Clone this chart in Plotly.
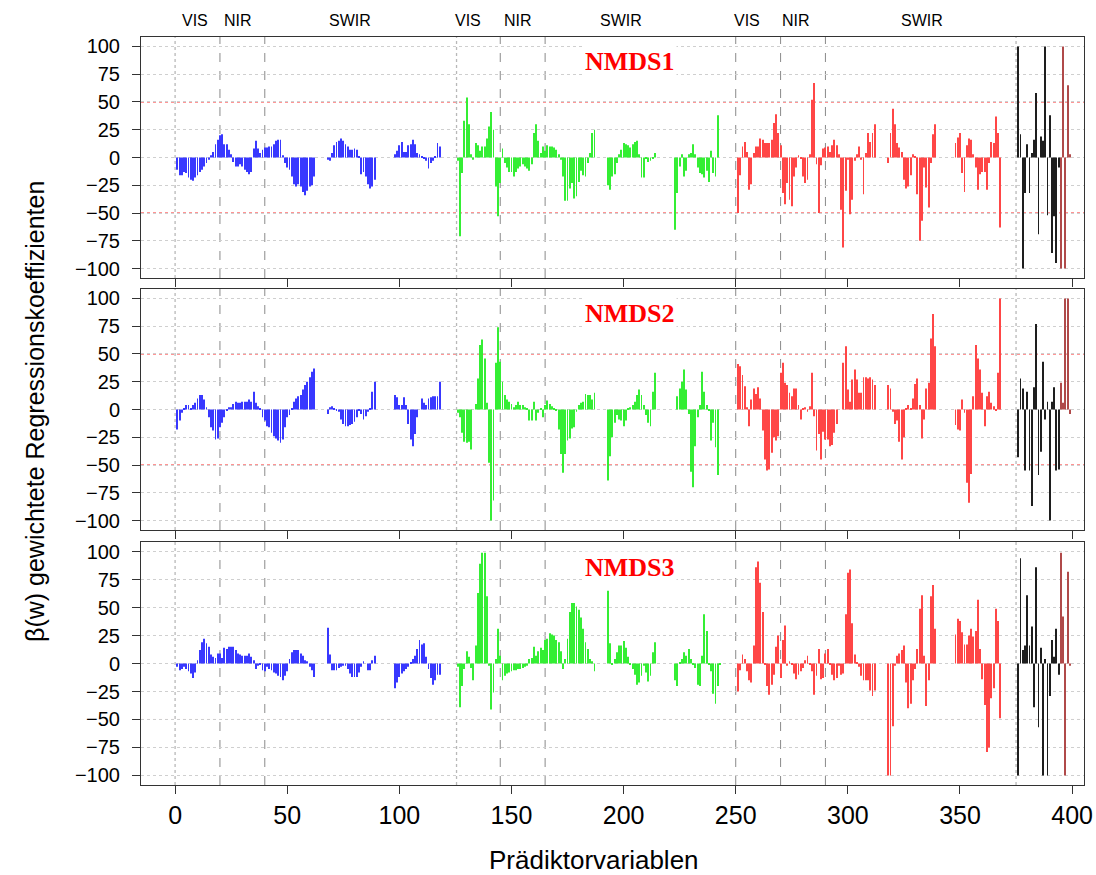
import plotly.graph_objects as go
from plotly.subplots import make_subplots

# ---------------- data ----------------
# relative band indices inside one spectral block (gaps = water absorption bands)
seg_rel = list(range(1, 63)) + list(range(68, 90)) + list(range(98, 119))
block_offset = {"blue": 0, "green": 125, "red": 250}
black_x = list(range(376, 395))
brown_x = list(range(395, 400))
x_ticks = [0, 50, 100, 150, 200, 250, 300, 350, 400]
y_ticks = [-100, -75, -50, -25, 0, 25, 50, 75, 100]
band_edges_dark = [20, 40, 145, 165, 250, 270, 290]
band_edges_light = [0, 125.5, 375]
region_labels = ["VIS", "NIR", "SWIR", "VIS", "NIR", "SWIR", "VIS", "NIR", "SWIR"]
region_label_x = [9, 28, 78, 130.5, 153, 199, 255, 277, 333]
panel_titles = ["NMDS1", "NMDS2", "NMDS3"]

nmds1_blue = [
    -11, -16, -16, -13, -14, -18, -20, -21, -18, -16, -13, -11, -8, -5, -2,
    2, 5, 12, 16, 20, 21, 12, 12, 7, 3,
    -4, -8, -8, -6, -8, -11, -13, -15, -13,
    8, 15, 8, 4, 7, 9, 9, 10, 10, 12, 15, 16, 16, 2,
    -5, -9, -11, -17, -24, -26, -24, -26, -31, -34, -30, -26, -25, -17,
    -2, -3, 4, 11, 14, 15, 17, 15, 12, 10, 7, 7, 8, 7, 1, -15, -13, -17, -24, -28, -26, -20,
    3, 6, 11, 14, 5, 5, 11, 12, 16, 12, 4, 3, 1, -1, -3, -10, -5, -3, 1, 13, 10]
nmds1_green = [
    -3, -71, -14, 33, 54, 30, 3, -2, 13, 11, 6, 10, 10, 17, 28, 41, 25, -26, -53, -23, 8,
    -5, -9, -13, -13, -17, -13, -10, -8, -6, -8, -10, -12, -6, 22, 30, 15, 4, 10, 6, 11,
    10, 10, 9, 7, 3, -2, -17, -39, -39, -28, -23, -37, -35, -22, -12, -16, -17, -5, 4, 22, 25,
    -25, -29, -17, -15, -5, 3, 7, 13, 12, 11, 9, 12, 14, 15, 3, -18, -18, -1, -4, -3, -1, 4,
    -65, -32, -8, 3, -17, -12, 3, 4, 12, 3, -9, -14, -15, -18, -12, -22, 6, -14, -17, 38, 0]
nmds1_red = [
    -50, -16, 10, 14, 5, -29, -24, 4, 10, 10, 17, 16, 13, 13, 13, 16, 31, 39, 22, 11,
    -32, -42, -23, -38, -44, -17, -9, 2, -1, -17, -23, -20, 3, 52, 67, -6, -50, -7, 8, 9,
    10, 5, 11, 16, 11, 3, -47, -81, -30, -2, -51, -38, -3, 3, 10, -2, -33, 4, 22, 14, 22, 30,
    -5, 22, 44, 30, 13, 9, 5, -20, -28, -26, -16, 3, 1, -33, -75, -57, -9, -27, -45, -5, 21, 30,
    13, 18, 22, -14, -31, 11, 17, 16, 3, -9, -29, -15, -13, -13, -29, -5, 14, 13, 37, 22, -63]
nmds1_black = [100, 21, -100, -32, 12, -32, 4, 16, 58, -69, 19, 15, 100, -52, 38, -86, -53, -95, -9]
nmds1_brown = [-100, 100, -100, 65, 3]

nmds2_blue = [
    -18, -10, -3, 1, 4, 4, 1, 4, 6, 10, 13, 13, 9, 2, -7, -16, -19, -27, -26, -16,
    -12, -7, -1, 2, 2, 5, 7, 6, 6, 7, 7, 7, 9, 7, 16, 6, 3, 1, -7, -10,
    -15, -16, -21, -24, -26, -28, -30, -27, -16, -7, -5, 1, 7, 10, 12, 13, 18, 22, 25, 29, 34, 37,
    -4, 2, 3, 1, -1, -2, -9, -13, -15, -15, -14, -13, -11, -7, -1, -4, -9, -6, -2, 1, 16, 25,
    13, 11, 4, 4, 11, 4, -13, -27, -33, -22, -7, 0, 10, 6, 4, 10, 11, 12, 12, 12, 25]
nmds2_green = [
    -3, -7, -21, -29, -30, -29, -36, 0, 5, 28, 58, 63, 46, 6, -48, -100, -82, 42, 74, 43, 25,
    13, 9, 7, 5, 2, 4, 7, 4, 4, 2, 1, -10, -10, 7, -10, -3, 1, -7, 4, 8,
    5, 3, 1, -1, -18, -40, -57, -40, -28, -26, -17, -16, -2, 4, 6, 7, 14, 13, 13, 9, 15,
    -64, -42, -25, -12, -5, -9, -10, -15, -10, 1, 2, 4, 7, 13, 18, 13, 4, -5, -12, -15, 16, 33,
    0, 12, 19, 25, 36, 18, -4, -56, -70, -33, -7, 4, 34, 16, 4, -1, -28, -12, -34, -59, 0]
nmds2_red = [
    41, 39, 31, 21, 2, -15, 9, 19, 14, 20, 10, -19, -45, -55, -54, -39, -25, -28, -24, 33,
    42, 24, 22, 15, 12, 19, 19, 4, -9, 1, 2, -2, 3, 33, -6, -37, -22, -45, -20, -27,
    -27, -33, -32, -21, -13, 0, 0, 42, 57, 18, 7, 27, 36, 27, 15, 15, 29, 29, 28, 29, 27, 22,
    22, 19, -2, -13, -10, -29, -45, -25, 1, 4, 1, 10, 23, 28, 4, -26, -9, 19, 24, 64, 86, 57,
    -14, -18, -19, 9, -3, -66, -84, -58, 12, 58, 46, 36, 15, -15, 12, 16, 6, 3, -1, 33, 100]
nmds2_black = [-43, 28, 19, -55, 16, -55, -87, 20, 77, -59, -38, 43, -9, 7, -100, 7, 20, -55, -54]
nmds2_brown = [24, 6, 100, 100, -4]

nmds3_blue = [
    -3, -6, -5, -3, -5, -7, -9, -13, -8, 3, 12, 19, 22, 18, 15, 8, 6, 5, 9, 9,
    5, 14, 13, 15, 15, 15, 12, 9, 8, 7, 7, 7, 9, 6, 3, -5, -2, -1, -6, -7,
    -3, -5, -6, -8, -9, -11, -12, -15, -11, -7, 4, 10, 12, 12, 12, 9, 7, 3, 2, -3, -6, -12,
    32, 8, -6, -6, -6, -4, -3, -2, -2, -5, -9, -12, -12, -12, -8, -3, 2, 0, -6, -6, 3, 7,
    -22, -17, -12, -9, -7, -5, -3, 1, 4, 7, 13, 21, 17, 18, 6, -5, -13, -19, -15, -10, -10]
nmds3_green = [
    -3, -39, -20, -5, 11, 6, -4, -15, 16, 63, 89, 99, 99, 60, -2, -41, -26, 4, 31, 7, -15,
    -11, -9, -8, -7, -6, -6, -5, -5, -4, -3, -2,
    4, 5, 15, 7, 11, 14, 12, 21, 22, 27, 26, 25, 21, 19, 11, -5, 4, 22, 46, 54, 54, 51, 48, 41,
    31, 19, 13, 4, 2, -7,
    65, 18, -1, 4, 10, 16, 16, 20, 14, 6, -1, -5, -10, -19, -17, -11, -2, -8, -16, -11, 10, 19,
    -15, -20, 1, 4, 10, 7, 13, 4, -1, -4, -19, -20, 7, 44, 29, -1, -7, -27, -36, -20, -1]
nmds3_red = [
    -25, -6, 8, 4, -7, -15, -17, 16, 86, 91, 72, 46, -1, -20, -28, -19, -10, 15, 25, -13,
    21, 34, -2, 2, -1, -9, -14, -10, -7, -4, 3, 7, -1, -7, -28, -11, 13, -14, -13, 9,
    13, -1, -10, -15, -13, -2, -10, -9, 44, 81, 84, 36, 8, 1, -3, -11, -15, -15, -15, -24, -29, -24,
    -100, -100, -56, -2, 7, 9, 12, 16, -17, -40, -36, -15, -5, 13, 49, 61, 7, -38, -15, 60, 70, 31,
    26, 40, 38, 28, 17, 17, 25, 31, 24, 29, 57, 13, -14, -37, -79, -75, -31, -22, 49, 38, -49]
nmds3_black = [-100, 94, 12, 16, 61, 16, 33, -39, 86, -57, 14, -100, 4, -100, -29, 21, 6, 31, -10]
nmds3_brown = [99, 42, -100, 82, -2]

panels = [
    (nmds1_blue, nmds1_green, nmds1_red, nmds1_black, nmds1_brown),
    (nmds2_blue, nmds2_green, nmds2_red, nmds2_black, nmds2_brown),
    (nmds3_blue, nmds3_green, nmds3_red, nmds3_black, nmds3_brown),
]
colors = {"blue": "#3838ff", "green": "#34ee34", "red": "#ff4646",
          "black": "#1e1e1e", "brown": "#b04a4a"}

# ---------------- figure ----------------
W, H = 1096, 874
ml, mr, mt, mb = 141, 12, 37, 89
ph = H - mt - mb
def pv(px):  # pixel row -> paper y
    return (H - mb - px) / ph
def ph_x(px):  # pixel column -> paper x
    return (px - ml) / (W - ml - mr)

domains = [(pv(278), pv(37)), (pv(530), pv(289)), (pv(785), pv(542))]

fig = make_subplots(rows=3, cols=1, shared_xaxes=False)

for p, data in enumerate(panels):
    row = p + 1
    blue, green, red, black, brown = data
    for name, vals in (("blue", blue), ("green", green), ("red", red)):
        xs = [block_offset[name] + r for r in seg_rel]
        fig.add_trace(go.Bar(x=xs, y=vals, width=0.4, marker=dict(color=colors[name], line=dict(width=0)),
                             showlegend=False), row=row, col=1)
    fig.add_trace(go.Bar(x=black_x, y=black, width=0.4, marker=dict(color=colors["black"], line=dict(width=0)),
                         showlegend=False), row=row, col=1)
    fig.add_trace(go.Bar(x=brown_x, y=brown, width=0.4, marker=dict(color=colors["brown"], line=dict(width=0)),
                         showlegend=False), row=row, col=1)

    xa = "x" if p == 0 else f"x{p+1}"
    ya = "y" if p == 0 else f"y{p+1}"
    for yv in (50, -50):
        fig.add_shape(type="line", xref=f"{xa} domain", yref=ya, x0=0, x1=1, y0=yv, y1=yv,
                      line=dict(color="#ff2020", width=1, dash="dot"), layer="below")
    for xv in band_edges_dark:
        fig.add_shape(type="line", xref=xa, yref=f"{ya} domain", x0=xv, x1=xv, y0=0, y1=1,
                      line=dict(color="#8a8a8a", width=1, dash="dash"), layer="below")
    for xv in band_edges_light:
        fig.add_shape(type="line", xref=xa, yref=f"{ya} domain", x0=xv, x1=xv, y0=0, y1=1,
                      line=dict(color="#b8b8b8", width=1.3, dash="dot"), layer="below")
    fig.add_annotation(x=203, y=86, xref=xa, yref=ya, text=f"<b>{panel_titles[p]}</b>",
                       showarrow=False, bgcolor="white", xanchor="center", yanchor="middle",
                       font=dict(family="Liberation Serif", size=26, color="#ff0000"))

    fig.update_yaxes(row=row, col=1, domain=list(domains[p]), range=[-108.5, 108.5],
                     tickvals=y_ticks, ticks="outside", ticklen=8, tickcolor="#333",
                     showline=True, linecolor="#333", linewidth=1, mirror=True,
                     showgrid=True, gridcolor="#cfcfcf", griddash="dot", gridwidth=1,
                     zeroline=False, ticklabelstandoff=8,
                     tickfont=dict(family="Liberation Sans", size=20, color="black"))
    fig.update_xaxes(row=row, col=1, range=[-15.2, 405.3], tickvals=x_ticks,
                     ticks="outside", ticklen=8, tickcolor="#333",
                     showline=True, linecolor="#333", linewidth=1, mirror=True,
                     showgrid=False, zeroline=False, showticklabels=(p == 2),
                     tickfont=dict(family="Liberation Sans", size=25, color="black"))

for lbl, lx in zip(region_labels, region_label_x):
    fig.add_annotation(x=lx, y=1.07, xref="x", yref="y domain", text=lbl, showarrow=False,
                       xanchor="center", yanchor="middle",
                       font=dict(family="Liberation Sans", size=16, color="black"))

fig.add_annotation(x=ph_x(35), y=pv(412), xref="paper", yref="paper",
                   text="β(w) gewichtete Regressionskoeffizienten", textangle=-90, showarrow=False,
                   xanchor="center", yanchor="middle",
                   font=dict(family="Liberation Sans", size=25, color="black"))
fig.add_annotation(x=ph_x(594), y=pv(860), xref="paper", yref="paper",
                   text="Prädiktorvariablen", showarrow=False, xanchor="center", yanchor="middle",
                   font=dict(family="Liberation Sans", size=26, color="black"))

fig.update_layout(width=W, height=H, margin=dict(l=ml, r=mr, t=mt, b=mb, autoexpand=False),
                  barmode="overlay", plot_bgcolor="white", paper_bgcolor="white",
                  showlegend=False, hovermode=False)

# remove the default 8px page margin so the figure sits at the window's top-left corner
fig.write_html("out.html", config={"displayModeBar": False},
               post_script="document.body.style.margin='0px';")
